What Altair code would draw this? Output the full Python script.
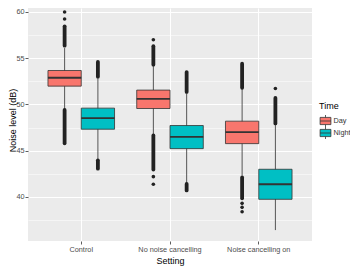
import altair as alt
import pandas as pd

settings = ["Control", "No noise cancelling", "Noise cancelling on"]
times = ["Day", "Night"]

# box statistics per (setting, time), order: Control D/N, NNC D/N, NCO D/N
grp_setting = ["Control", "Control", "No noise cancelling", "No noise cancelling",
               "Noise cancelling on", "Noise cancelling on"]
grp_time = ["Day", "Night", "Day", "Night", "Day", "Night"]
q1 = [51.98, 47.32, 49.56, 45.22, 45.76, 39.74]
median = [52.88, 48.52, 50.60, 46.49, 47.00, 41.36]
q3 = [53.67, 49.60, 51.55, 47.72, 48.19, 42.99]
whisker_lo = [49.50, 44.10, 46.80, 41.50, 42.30, 36.41]
whisker_hi = [56.10, 52.85, 54.20, 51.20, 51.66, 47.80]

# dense runs of outliers (read as continuous strips)
band_setting = ["Control", "Control", "Control", "Control",
                "No noise cancelling", "No noise cancelling", "No noise cancelling", "No noise cancelling",
                "Noise cancelling on", "Noise cancelling on", "Noise cancelling on"]
band_time = ["Day", "Day", "Night", "Night", "Day", "Day", "Night", "Night", "Day", "Day", "Night"]
band_lo = [56.35, 45.80, 53.00, 43.05, 54.30, 42.95, 51.35, 40.70, 51.80, 39.85, 47.95]
band_hi = [58.45, 49.40, 54.60, 43.95, 56.30, 46.65, 53.50, 41.40, 54.40, 42.10, 50.70]

# isolated outliers
pt_setting = ["Control", "Control", "No noise cancelling", "No noise cancelling", "No noise cancelling",
              "Noise cancelling on", "Noise cancelling on", "Noise cancelling on", "Noise cancelling on"]
pt_time = ["Day", "Day", "Day", "Day", "Day", "Day", "Day", "Day", "Night"]
pt_value = [60.00, 59.24, 57.00, 42.19, 41.36, 39.30, 38.87, 38.40, 51.73]

box_df = pd.DataFrame({"Setting": grp_setting, "Time": grp_time, "q1": q1, "median": median,
                       "q3": q3, "lo": whisker_lo, "hi": whisker_hi})
band_df = pd.DataFrame({"Setting": band_setting, "Time": band_time, "lo": band_lo, "hi": band_hi})
pt_df = pd.DataFrame({"Setting": pt_setting, "Time": pt_time, "value": pt_value})

FONT = "Liberation Sans"
DARK = "#333333"
PT = "#222222"

xenc = alt.X("Setting:N", sort=settings,
             scale=alt.Scale(paddingInner=0, paddingOuter=0.1),
             axis=alt.Axis(title="Setting", labelAngle=0, grid=True, gridColor="white",
                           gridWidth=1.1, bandPosition=0.5, domain=False, tickSize=3,
                           tickColor=DARK, tickWidth=0.8, labelFontSize=7.3, labelColor="#4D4D4D",
                           labelPadding=1.5, titleFontSize=9, titleFontWeight="normal",
                           titleColor="#000000", titleBaseline="alphabetic", titleY=22.5,
                           labelFont=FONT, titleFont=FONT))
xoff = alt.XOffset("Time:N", sort=times, scale=alt.Scale(paddingInner=0, paddingOuter=1 / 3))
yscale = alt.Scale(domain=[35.23, 60.43], nice=False, zero=False)
major = "datum.value % 5 === 0"
yaxis = alt.Axis(title="Noise level (dB)", values=[37.5, 40, 42.5, 45, 47.5, 50, 52.5, 55, 57.5, 60],
                 labelExpr="datum.value % 5 === 0 ? datum.label : ''",
                 tickOpacity={"condition": {"test": major, "value": 1}, "value": 0},
                 gridWidth={"condition": {"test": major, "value": 1.1}, "value": 0.5},
                 gridColor="white", domain=False, tickSize=3, tickColor=DARK, tickWidth=0.8,
                 labelFontSize=7.3, labelColor="#4D4D4D", labelPadding=1,
                 titleFontSize=9, titleFontWeight="normal", titleColor="#000000",
                 titleX=-11, titleY=112, labelFont=FONT, titleFont=FONT)

def yenc(field):
    return alt.Y(field, scale=yscale, axis=yaxis, title="Noise level (dB)")

whisk = alt.Chart(box_df).mark_rule(color="#444444", strokeWidth=0.9).encode(
    x=xenc, xOffset=xoff, y=yenc("lo:Q"), y2="hi:Q")

bands = alt.Chart(band_df).mark_rule(color=PT, strokeWidth=3.8, strokeCap="round").encode(
    x=xenc, xOffset=xoff, y=yenc("lo:Q"), y2="hi:Q")

pts = alt.Chart(pt_df).mark_circle(color=PT, size=13, opacity=1).encode(
    x=xenc, xOffset=xoff, y=yenc("value:Q"))

legend_path = ("M-0.9,-0.6H0.9V0.6H-0.9Z M-0.9,0H0.9 M0,-0.6V-1 M0,0.6V1")
boxes = alt.Chart(box_df).mark_bar(stroke=DARK, strokeWidth=0.8).encode(
    x=xenc, xOffset=xoff, y=yenc("q1:Q"), y2="q3:Q",
    fill=alt.Fill("Time:N", sort=times,
                  scale=alt.Scale(domain=times, range=["#F8766D", "#00BFC4"]),
                  legend=alt.Legend(title="Time", orient="none", legendX=291, legendY=94,
                                    padding=0, symbolType=legend_path, symbolSize=144,
                                    symbolStrokeColor=DARK, symbolStrokeWidth=0.8,
                                    titleFontSize=9, titleFontWeight="normal", titleColor="#000000",
                                    titlePadding=4, labelFontSize=7.3, labelColor="#333333",
                                    labelOffset=1.5, rowPadding=0, clipHeight=12,
                                    titleFont=FONT, labelFont=FONT)))

med = alt.Chart(box_df).mark_bar(stroke=DARK, strokeWidth=1.9, fillOpacity=0).encode(
    x=xenc, xOffset=xoff, y=yenc("median:Q"), y2="median:Q")

chart = alt.layer(whisk, bands, pts, boxes, med).properties(
    width=284, height=233,
    autosize=alt.AutoSizeParams(type="none"),
    padding={"left": 20, "top": 0, "right": 38, "bottom": 25},
).configure(font=FONT).configure_view(fill="#EBEBEB", strokeWidth=0)

chart.save("out.html", embed_options={"renderer": "svg", "actions": False})
